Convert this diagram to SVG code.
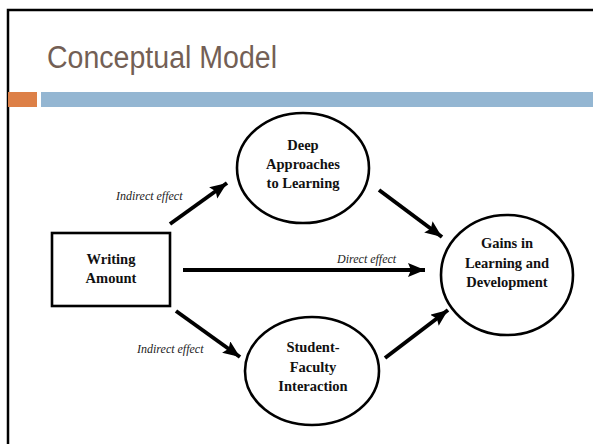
<svg xmlns="http://www.w3.org/2000/svg" width="593" height="444" viewBox="0 0 593 444">
  <style>
    .node { fill: #ffffff; stroke: #000000; stroke-width: 2.6; }
    .label { font-family: "Liberation Serif", "Times New Roman", serif; font-weight: bold; font-size: 14.5px; fill: #111111; text-anchor: middle; }
    .effect { font-family: "Liberation Serif", "Times New Roman", serif; font-style: italic; font-size: 12px; fill: #222222; }
    .edge { stroke: #000000; stroke-width: 4; fill: none; marker-end: url(#head); }
  </style>
  <defs>
    <!-- barbed arrowhead shared by all connectors -->
    <marker id="head" markerUnits="userSpaceOnUse" markerWidth="20" markerHeight="16" refX="17" refY="7" orient="auto">
      <path d="M0,0 L17,7 L0,14 L3,7 Z" fill="#000000"/>
    </marker>
  </defs>

  <!-- slide frame -->
  <rect x="8" y="10" width="600" height="450" fill="#ffffff" stroke="#000000" stroke-width="2.5"/>

  <!-- title -->
  <text x="47" y="68" font-family="'Liberation Sans', Arial, sans-serif" font-size="31" fill="#735f55" textLength="230" lengthAdjust="spacingAndGlyphs">Conceptual Model</text>

  <!-- accent bars -->
  <rect x="8" y="92" width="29" height="15" fill="#dd8047"/>
  <rect x="41" y="92" width="552" height="15" fill="#94b6d2"/>

  <!-- connectors -->
  <g id="connectors">
    <line class="edge" x1="170" y1="224" x2="227" y2="183"/>
    <line class="edge" x1="183" y1="270" x2="425" y2="270"/>
    <line class="edge" x1="379" y1="190" x2="442" y2="237"/>
    <line class="edge" x1="176" y1="311" x2="240" y2="357"/>
    <line class="edge" x1="385" y1="358" x2="448" y2="310"/>
    <text class="effect" x="116" y="200">Indirect effect</text>
    <text class="effect" x="337" y="263">Direct effect</text>
    <text class="effect" x="137" y="353">Indirect effect</text>
  </g>

  <g id="writing-amount">
    <rect class="node" x="52" y="233" width="118" height="73"/>
    <text class="label" x="111" y="264">Writing</text>
    <text class="label" x="111" y="283">Amount</text>
  </g>

  <g id="deep-approaches">
    <ellipse class="node" cx="303" cy="168" rx="66" ry="55"/>
    <text class="label" x="303" y="150">Deep</text>
    <text class="label" x="303" y="169">Approaches</text>
    <text class="label" x="303" y="188">to Learning</text>
  </g>

  <g id="gains">
    <ellipse class="node" cx="507" cy="275" rx="66" ry="60"/>
    <text class="label" x="507" y="248">Gains in</text>
    <text class="label" x="507" y="268">Learning and</text>
    <text class="label" x="507" y="287">Development</text>
  </g>

  <g id="student-faculty">
    <ellipse class="node" cx="312" cy="371" rx="67" ry="54"/>
    <text class="label" x="313" y="352">Student-</text>
    <text class="label" x="313" y="372">Faculty</text>
    <text class="label" x="313" y="391">Interaction</text>
  </g>
</svg>
